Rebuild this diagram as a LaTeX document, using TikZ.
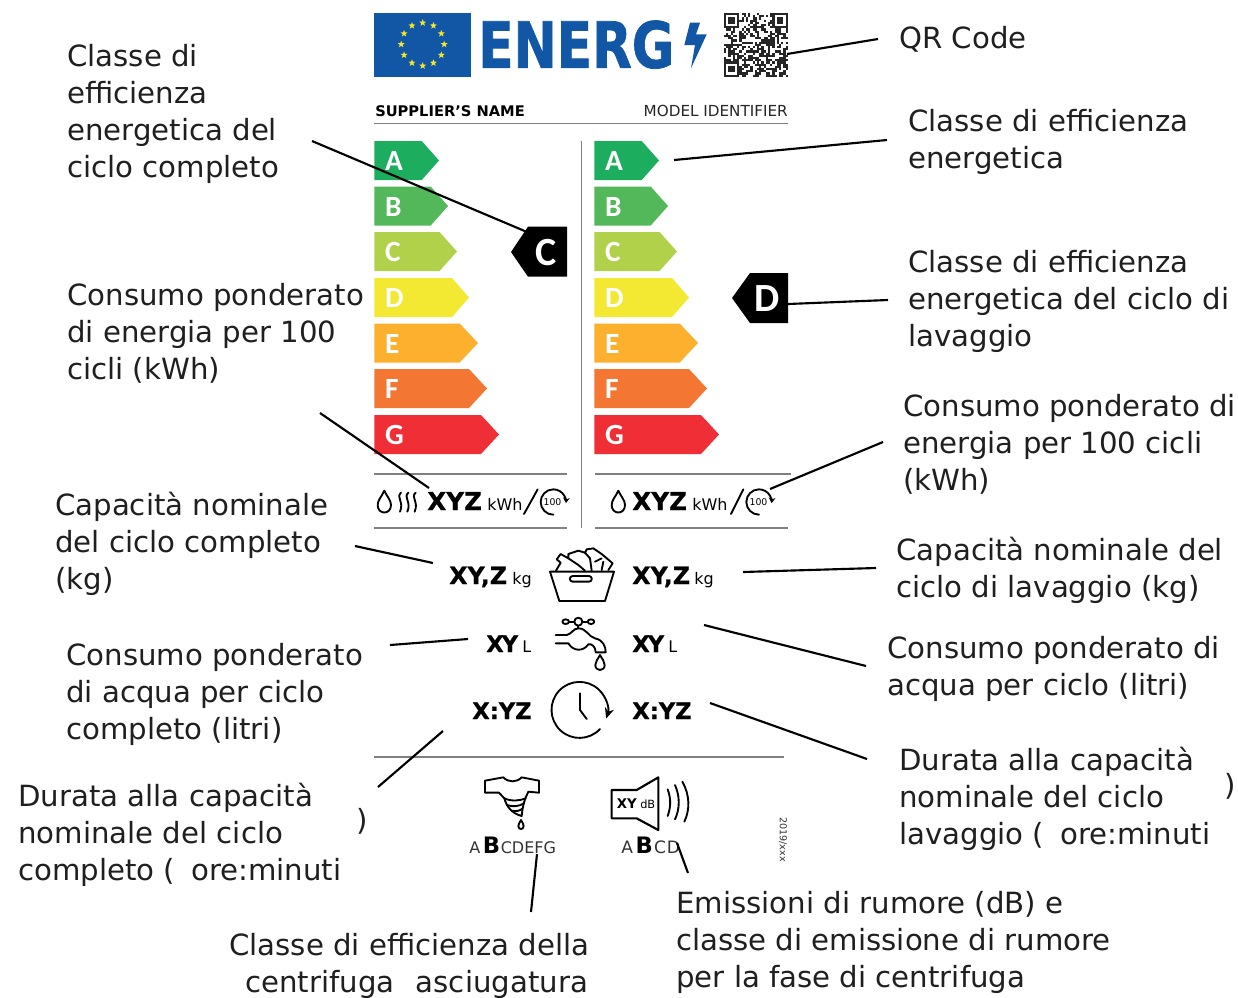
\documentclass[tikz,border=0pt]{standalone}
\usepackage{graphicx}
\usepackage{fontspec}
\setmainfont{DejaVu Sans}
\newfontfamily\carl{Carlito}
\newfontfamily\energfont[FakeBold=1.2]{DejaVu Sans Bold}
\newfontfamily\heavy[FakeBold=0.5]{DejaVu Sans Bold}
\usetikzlibrary{shapes.geometric,arrows.meta}
\definecolor{eublue}{HTML}{1157A6}
\definecolor{euyel}{HTML}{F6E62B}
\definecolor{ca}{HTML}{1CAE5E}
\definecolor{cb}{HTML}{52B85A}
\definecolor{cc}{HTML}{B1D14A}
\definecolor{cd}{HTML}{F3E932}
\definecolor{ce}{HTML}{FCB02D}
\definecolor{cf}{HTML}{F37633}
\definecolor{cg}{HTML}{EF2E36}
\definecolor{rulegray}{HTML}{808080}
\newcommand{\fl}{\rule{0pt}{18pt}}
\tikzset{
 lbl/.style={anchor=north west,inner sep=0pt,align=left,font=\fontsize{21.9}{27.7}\selectfont,text=black!88},
 conn/.style={draw=black,line width=1.6pt},
 sep/.style={draw=rulegray,line width=1pt},
 icon/.style={draw=black,line width=1.4pt,line join=round,line cap=round},
 bold/.style={inner sep=0pt,anchor=base west,font=\bfseries},
 lett/.style={inner sep=0pt,anchor=base west,text=white,font=\carl\bfseries\fontsize{22}{22}\selectfont}
}
\newcommand{\ebar}[7]{% name,colour,letter,x-left,flat,tip,top
 \fill[#2] (#4,#7) -- (#5,#7) -- (#6,#7+19.5) -- (#5,#7+39) -- (#4,#7+39) -- cycle;
 \node[lett] (#1) at (#4+10.5,#7+29.5) {#3};}
\newcommand{\qtybold}[1]{\fontsize{17}{17}\selectfont\heavy #1}
\newcommand{\qtyunit}[1]{\fontsize{12}{12}\selectfont #1}
\begin{document}
\begin{tikzpicture}[x=0.75pt,y=-0.75pt]
\useasboundingbox (0,0) rectangle (1238,997);
\fill[white] (0,0) rectangle (1238,997);
% flag
\fill[eublue] (374,13) rectangle (471,77);
\foreach \i in {0,...,11}{
 \node[star,star points=5,star point ratio=2.4,fill=euyel,inner sep=0pt,minimum size=5.5pt] (st\i) at ({422.7+21.5*cos(30*\i)},{44.3+21.5*sin(30*\i)}) {};
}
% ENERG
\node[inner sep=0pt,anchor=south west,text=eublue] (energ) at (478,69) {\resizebox{147pt}{35.5pt}{\energfont ENERG}};
\fill[eublue] (690,22.7) -- (700,22.7) -- (696,34.3) -- (706.7,34.3) -- (691,68.3) -- (695,45) -- (684.3,45) -- cycle;
% QR
\begin{scope}[shift={(724,13)},x=1.65pt,y=-1.65pt]
\pgfmathsetseed{71}
\foreach \i in {0,...,28}{\foreach \j in {0,...,28}{
  \pgfmathrandominteger{\b}{0}{1}
  \ifnum\b=1 \fill[black!85] (\i,\j) rectangle ++(1,1);\fi}}
\foreach \px/\py in {0/0,22/0,0/22}{
  \fill[black!85] (\px,\py) rectangle ++(7,7);
  \fill[white] (\px+1,\py+1) rectangle ++(5,5);
  \fill[black!85] (\px+2,\py+2) rectangle ++(3,3);}
\end{scope}
% header
\node[inner sep=0pt,anchor=base west,font=\bfseries\fontsize{11}{11}\selectfont] (sup) at (375,116) {SUPPLIER’S NAME};
\node[inner sep=0pt,anchor=base east,font=\fontsize{11.4}{11.4}\selectfont,text=black!85] (mod) at (788,116) {MODEL IDENTIFIER};
\draw[sep] (374,123.5) -- (788,123.5);
\draw[sep] (581.5,141) -- (581.5,528);
\draw[sep] (374,474) -- (567,474);
\draw[sep] (595,474) -- (791,474);
\draw[sep] (374,528) -- (567,528);
\draw[sep] (595,528) -- (788,528);
\draw[sep] (374,757) -- (784,757);
% bars
\foreach \dx/\p in {0/l,220/r}{
 \ebar{A\p}{ca}{A}{374.3+\dx}{421.7+\dx}{439+\dx}{141}
 \ebar{B\p}{cb}{B}{374.3+\dx}{430.7+\dx}{448+\dx}{186.5}
 \ebar{C\p}{cc}{C}{374.3+\dx}{439.5+\dx}{457+\dx}{232}
 \ebar{D\p}{cd}{D}{374.3+\dx}{452+\dx}{469+\dx}{278}
 \ebar{E\p}{ce}{E}{374.3+\dx}{459.7+\dx}{478+\dx}{323.5}
 \ebar{F\p}{cf}{F}{374.3+\dx}{469+\dx}{487+\dx}{369}
 \ebar{G\p}{cg}{G}{374.3+\dx}{481+\dx}{499+\dx}{415}
}
% markers
\fill[black] (511,252) -- (528,226.7) -- (567,226.7) -- (567,276.7) -- (528,276.7) -- cycle;
\node[inner sep=0pt,anchor=base,text=white,font=\carl\bfseries\fontsize{30}{30}\selectfont] (mC) at (546.5,265) {C};
\fill[black] (732,298) -- (750,273) -- (788,273) -- (788,323) -- (750,323) -- cycle;
\node[inner sep=0pt,anchor=base,text=white,font=\carl\bfseries\fontsize{30}{30}\selectfont] (mD) at (767,311) {D};
% energy rows
\begin{scope}[shift={(365,460)},x=0.25pt,y=-0.25pt]
 \draw[icon] (58,92) .. controls (50,110) and (38,120) .. (38,135) .. controls (38,165) and (78,165) .. (78,135) .. controls (78,120) and (66,110) .. (58,92) -- cycle;
 \foreach \sx in {108,130,152}{
  \draw[icon] (\sx,98) .. controls (\sx-16,112) and (\sx+10,125) .. (\sx-3,155);
 }
 \draw[icon] (518,88) -- (477,162);
 \draw[icon] (1135,88) -- (1098,162);
 \draw[icon] (760,92) .. controls (752,110) and (740,120) .. (740,135) .. controls (740,165) and (780,165) .. (780,135) .. controls (780,120) and (768,110) .. (760,92) -- cycle;
 \draw[icon,-{Stealth[length=4pt,width=5pt]}] (565,164) arc[start angle=90,end angle=365,radius=38];
 \draw[icon,-{Stealth[length=4pt,width=5pt]}] (1182,164) arc[start angle=90,end angle=365,radius=38];
\end{scope}
\node[inner sep=0pt,anchor=center,font=\fontsize{7}{7}\selectfont] (c100l) at (552.5,502) {100};
\node[inner sep=0pt,anchor=center,font=\fontsize{7}{7}\selectfont] (c100r) at (758.5,502) {100};
\node[bold,font=\heavy\fontsize{18.5}{18.5}\selectfont] (xyzl) at (427,510) {XYZ};
\node[inner sep=0pt,anchor=base west,font=\fontsize{12}{12}\selectfont] (kwhl) at (487,510) {kWh};
\node[bold,font=\heavy\fontsize{18.5}{18.5}\selectfont] (xyzr) at (632,510) {XYZ};
\node[inner sep=0pt,anchor=base west,font=\fontsize{12}{12}\selectfont] (kwhr) at (692,510) {kWh};
% quantities
\node[bold] (q1) at (449,584) {\fontsize{17.8}{17.8}\selectfont\heavy XY,Z};
\node[inner sep=0pt,anchor=base west] (q1u) at (512,584) {\qtyunit{kg}};
\node[bold] (q2) at (632,584) {\fontsize{17.8}{17.8}\selectfont\heavy XY,Z};
\node[inner sep=0pt,anchor=base west] (q2u) at (694,584) {\qtyunit{kg}};
\node[bold] (q3) at (486,652) {\qtybold{X\kern-1.5pt Y}};
\node[inner sep=0pt,anchor=base west] (q3u) at (522,652) {\qtyunit{L}};
\node[bold] (q4) at (632,652) {\qtybold{X\kern-1.5pt Y}};
\node[inner sep=0pt,anchor=base west] (q4u) at (668,652) {\qtyunit{L}};
\node[bold] (q5) at (472,719) {\qtybold{X:YZ}};
\node[bold] (q6) at (632,719) {\qtybold{X:YZ}};
% basket
\begin{scope}[shift={(540,540)},x=0.25pt,y=-0.25pt]
 \draw[icon] (48,92) -- (62,68) -- (50,58) -- (62,42) -- (85,55) -- (85,42) -- (115,32) -- (135,38) -- (140,28) -- (160,25) -- (185,42) -- (218,70) -- (205,90);
 \draw[icon] (85,55) -- (115,75) -- (135,92);
 \draw[icon] (135,38) -- (150,55) -- (155,92);
 \draw[icon] (165,65) -- (185,55);
 \draw[icon] (185,90) -- (190,65);
 \draw[icon] (30,95) -- (222,95) -- (195,183) -- (58,183) -- cycle;
 \draw[icon] (98,108) -- (147,108) arc[start angle=-90,end angle=90,radius=8.5] -- (98,125) arc[start angle=90,end angle=270,radius=8.5] -- cycle;
\end{scope}
% tap and clock
\begin{scope}[shift={(545,610)},x=0.25pt,y=-0.25pt]
 \draw[icon] (62,35) ellipse[x radius=10,y radius=7];
 \draw[icon] (138,35) ellipse[x radius=10,y radius=7];
 \draw[icon] (72,35) -- (128,35);
 \draw[icon,fill=white] (100,35) circle[radius=12];
 \draw[icon] (100,47) -- (100,55);
 \draw[icon] (32,75) -- (65,75) .. controls (80,72) and (85,55) .. (100,55) .. controls (125,55) and (130,80) .. (150,85) .. controls (175,90) and (182,110) .. (182,127) -- (152,127) .. controls (152,110) and (140,100) .. (130,103) .. controls (115,125) and (85,125) .. (70,100) -- (32,100);
 \draw[icon] (165,135) .. controls (158,148) and (151,155) .. (151,165) .. controls (151,185) and (179,185) .. (179,165) .. controls (179,155) and (172,148) .. (165,135) -- cycle;
 \draw[icon] (105,250) -- (105,300) -- (125,327);
\end{scope}
\draw[icon,-{Stealth[length=8pt,width=7pt]}] (600,729) arc[start angle=43,end angle=378,radius=28];
% T-shirt
\begin{scope}[shift={(475,770)},x=0.25pt,y=-0.25pt]
 \draw[icon] (30,32) -- (85,22) .. controls (100,38) and (125,38) .. (140,22) -- (192,32) -- (192,68) -- (160,65) .. controls (150,85) and (143,105) .. (140,138) .. controls (110,130) and (95,110) .. (88,85) -- (72,68) -- (30,68) -- cycle;
 \draw[icon] (88,85) .. controls (110,95) and (135,92) .. (152,85);
 \draw[icon] (95,105) .. controls (115,112) and (135,108) .. (146,100);
 \draw[icon] (110,122) .. controls (125,125) and (135,122) .. (142,116);
 \draw[icon] (138,150) .. controls (134,158) and (130,162) .. (130,168) .. controls (130,180) and (146,180) .. (146,168) .. controls (146,162) and (142,158) .. (138,150) -- cycle;
\end{scope}
% speaker
\begin{scope}[shift={(365,740)},x=0.25pt,y=-0.25pt]
 \draw[icon,line width=1.6pt] (740,150) -- (815,150) -- (880,112) -- (880,270) -- (815,235) -- (740,235) -- cycle;
 \draw[icon] (908,148) .. controls (918,175) and (918,200) .. (908,228);
 \draw[icon] (930,135) .. controls (945,170) and (945,205) .. (930,238);
 \draw[icon] (952,125) .. controls (975,165) and (975,210) .. (958,245);
\end{scope}
\node[bold,font=\bfseries\fontsize{10}{10}\selectfont] (spk) at (616.5,808) {XY};
\node[inner sep=0pt,anchor=base west,font=\fontsize{8.5}{8.5}\selectfont] (spku) at (640,808) {dB};
\node[inner sep=0pt,anchor=base west,font=\fontsize{12}{12}\selectfont,text=black!80] (sc1) at (469,853) {A\hspace{2pt}{\fontsize{17}{17}\selectfont\bfseries\color{black}B}\hspace{0.5pt}CDEFG};
\node[inner sep=0pt,anchor=base west,font=\fontsize{12.8}{12.8}\selectfont,text=black!80] (sc2) at (621,853) {A\hspace{2pt}{\fontsize{17}{17}\selectfont\bfseries\color{black}B}\hspace{1pt}C\hspace{0.5pt}D};
\node[inner sep=0pt,rotate=-90,font=\fontsize{7.2}{7.2}\selectfont,text=black!80] (yr) at (783,839.5) {2019/xxx};
% labels
\node[lbl] (t1) at (67,42) {\fl Classe di\\efficienza\\energetica del\\ciclo completo};
\node[lbl] (t2) at (67,281) {\fl Consumo ponderato\\di energia per 100\\cicli (kWh)};
\node[lbl] (t3) at (55,491) {\fl Capacità nominale\\del ciclo completo\\(kg)};
\node[lbl] (t4) at (66,641) {\fl Consumo ponderato\\di acqua per ciclo\\completo (litri)};
\node[lbl] (t5) at (18,782) {\fl Durata alla capacità\\nominale del ciclo\\completo (\hspace{12pt}ore:minuti};
\node[lbl] (t5b) at (356,806) {\fl )};
\node[lbl] (t6) at (229,931) {\fl Classe di efficienza della\\\hspace{12pt}centrifuga\hspace{9pt} asciugatura};
\node[lbl] (t7) at (899,24) {\fl QR Code};
\node[lbl] (t8) at (908,107) {\fl Classe di efficienza\\energetica};
\node[lbl] (t9) at (908,248) {\fl Classe di efficienza\\energetica del ciclo di\\lavaggio};
\node[lbl] (t10) at (903,392) {\fl Consumo ponderato di\\energia per 100 cicli\\(kWh)};
\node[lbl] (t11) at (896,536) {\fl Capacità nominale del\\ciclo di lavaggio (kg)};
\node[lbl] (t12) at (887,634) {\fl Consumo ponderato di\\acqua per ciclo (litri)};
\node[lbl] (t13) at (899,746) {\fl Durata alla capacità\\nominale del ciclo\\lavaggio (\hspace{12pt}ore:minuti};
\node[lbl] (t13b) at (1224,771) {\fl )};
\node[lbl] (t14) at (676,889) {\fl Emissioni di rumore (dB) e\\classe di emissione di rumore\\per la fase di centrifuga};
% connector ends
\coordinate (k1a) at (878,39); \coordinate (k1b) at (787,54);
\coordinate (k2a) at (312,141); \coordinate (k2b) at (527,232);
\coordinate (k3a) at (887,140); \coordinate (k3b) at (674,160);
\coordinate (k4a) at (888,300); \coordinate (k4b) at (788,304);
\coordinate (k5a) at (320,413); \coordinate (k5b) at (429,488);
\coordinate (k6a) at (883,442); \coordinate (k6b) at (770,489);
\coordinate (k7a) at (355,546); \coordinate (k7b) at (433,563);
\coordinate (k8a) at (876,568); \coordinate (k8b) at (743,572);
\coordinate (k9a) at (390,645); \coordinate (k9b) at (468,639);
\coordinate (k10a) at (866,666); \coordinate (k10b) at (704,625);
\coordinate (k11a) at (378,787); \coordinate (k11b) at (443,731);
\coordinate (k12a) at (867,759); \coordinate (k12b) at (710,703);
\coordinate (k13a) at (531,912); \coordinate (k13b) at (537,854);
\coordinate (k14a) at (688,873); \coordinate (k14b) at (677,843);
\foreach \n in {1,...,14}{\draw[conn] (k\n a) -- (k\n b);}
\end{tikzpicture}
\end{document}
